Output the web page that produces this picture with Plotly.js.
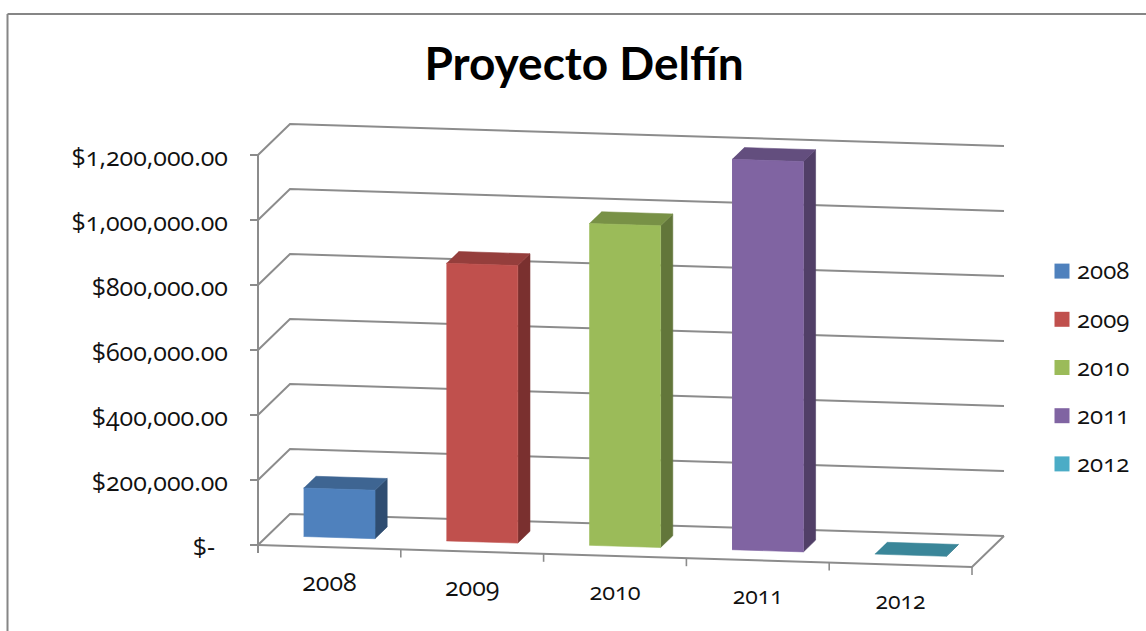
<!DOCTYPE html>
<html><head><meta charset="utf-8">
<script src="https://cdn.plot.ly/plotly-3.0.1.min.js"></script>
<style>
html,body{margin:0;padding:0;background:#fff;overflow:hidden}
#chart{width:1146px;height:631px}
.ytick text,.legendtext,.textpoint text{font-feature-settings:"onum" 1,"lnum" 0;font-variant-numeric:oldstyle-nums}
.legend .legendtext{transform:translate(-5px,-1px)}
</style></head><body><div id="chart"></div>
<script>
const years=['2008','2009','2010','2011','2012'];
const amounts=[149000,854000,990000,1201000,0];
const tickValues=[0,200000,400000,600000,800000,1000000,1200000];
const tickLabels=['$-\u00a0\u00a0','$200,000.00','$400,000.00','$600,000.00','$800,000.00','$1,000,000.00','$1,200,000.00'];
const frontColors=['#4F81BD','#C0504D','#9BBB59','#8064A2','#4BACC6'];
const topColors=['#3E6592','#953E3C','#789146','#634E7E','#3A8699'];
const sideColors=['#2F4D71','#7A302F','#62763A','#513F67','#2F6C7C'];
const catLabelSizes=[25,25,23.5,23,23];
const gridColor='#8C8C8C', frameColor='#868686', font='"Open Sans","Lato",sans-serif';

// layout scale in px: one category step, the depth vector and dollars per px
const W=1146,H=631,X0=258,Y0=545,stepX=142.8,stepY=4.4,depthX=32,depthY=31,pxPerDollar=65/200000;
const xRange=[-X0/stepX,(W-X0)/stepX];
const yRange=[(Y0-H)/pxPerDollar,Y0/pxPerDollar];
function P(u,d,v){return [u+d*depthX/stepX, v+(depthY*d-stepY*u)/pxPerDollar];}

const traces=[];
function poly(pts,fill,line){
  traces.push({x:pts.map(p=>p[0]),y:pts.map(p=>p[1]),mode:'lines',fill:'toself',fillcolor:fill,
    line:{color:line||fill,width:0.6},showlegend:false,hoverinfo:'skip'});
}
function seg(pts,w,color){
  traces.push({x:pts.map(p=>p[0]),y:pts.map(p=>p[1]),mode:'lines',line:{color:color||gridColor,width:w||2},
    showlegend:false,hoverinfo:'skip'});
}
const N=years.length;
tickValues.forEach(v=>{ seg([P(0,0,v),P(0,1,v),P(N,1,v)]); });
seg([P(0,0,0),P(N,0,0),P(N,1,0)]);
seg([[P(0,0,0)[0],P(0,0,1200000)[1]],[P(0,0,0)[0],P(0,0,0)[1]-8/pxPerDollar]]);
for(let i=1;i<=N;i++){const a=P(i,0,0);seg([a,[a[0],a[1]-8/pxPerDollar]],1.6);}
years.forEach((yr,i)=>{
  const u0=i+.25,u1=i+.75,d0=.31,d1=.69,v=amounts[i];
  poly([P(u1,d0,0),P(u1,d1,0),P(u1,d1,v),P(u1,d0,v)],sideColors[i]);
  poly([P(u0,d0,v),P(u1,d0,v),P(u1,d1,v),P(u0,d1,v)],topColors[i]);
  if(v>0) poly([P(u0,d0,0),P(u1,d0,0),P(u1,d0,v),P(u0,d0,v)],frontColors[i]);
});
// category labels, following the tilted floor edge
traces.push({x:years.map((y,i)=>P(i+.5,0,0)[0]),y:years.map((y,i)=>P(i+.5,0,0)[1]-38/pxPerDollar),
  mode:'text',text:years,textposition:'middle center',textfont:{family:font,size:catLabelSizes,color:'#111'},
  showlegend:false,hoverinfo:'skip'});
// legend entries
years.forEach((yr,i)=>traces.push({x:[null],y:[null],name:yr,mode:'markers',legendgroup:yr,
  marker:{symbol:'square',size:15,color:frontColors[i]}}));

const layout={width:W,height:H,margin:{l:0,r:0,t:0,b:0,pad:0},paper_bgcolor:'#fff',plot_bgcolor:'#fff',
  title:{text:'<b>Proyecto Delfín</b>',x:584/W,xanchor:'center',y:1-64/H,yanchor:'middle',
    font:{family:'Lato,"Open Sans",sans-serif',size:46,color:'#000'}},
  xaxis:{range:xRange,visible:false,fixedrange:true},
  yaxis:{range:yRange,anchor:'free',position:X0/W,showgrid:false,zeroline:false,showline:false,
    tickmode:'array',tickvals:tickValues,ticktext:tickLabels,ticks:'outside',ticklen:8,tickwidth:2,tickcolor:gridColor,
    ticklabelstandoff:17,ticklabelshift:2,tickfont:{family:font,size:25,color:'#111'},fixedrange:true},
  legend:{x:1042/W,xanchor:'left',y:1-249/H,yanchor:'top',tracegroupgap:14,itemsizing:'trace',bgcolor:'rgba(0,0,0,0)',
    font:{family:font,size:24,color:'#111'},traceorder:'grouped'},
  shapes:[
    {type:'line',xref:'paper',yref:'paper',x0:7.5/W,x1:1146/W,y0:1-14/H,y1:1-14/H,line:{color:frameColor,width:2}},
    {type:'line',xref:'paper',yref:'paper',x0:7.5/W,x1:7.5/W,y0:1-14/H,y1:0,line:{color:frameColor,width:2}}
  ]
};
Plotly.newPlot('chart',traces,layout,{displayModeBar:false,staticPlot:true});
</script></body></html>
